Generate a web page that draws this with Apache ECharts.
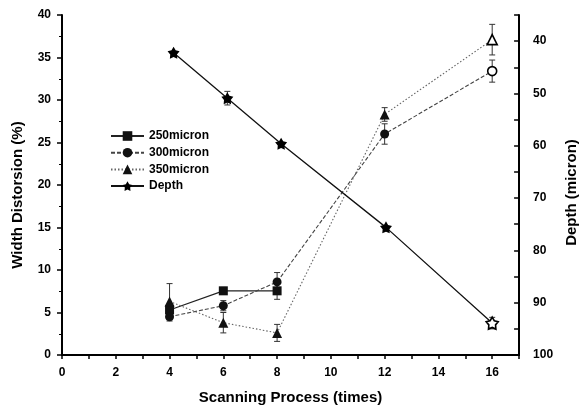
<!DOCTYPE html>
<html>
<head>
<meta charset="utf-8">
<script src="https://cdn.jsdelivr.net/npm/echarts@6/dist/echarts.min.js"></script>
<style>
html,body{margin:0;padding:0;background:#fff;}
#chart{width:587px;height:411px;}
</style>
</head>
<body>
<div id="chart"></div>
<script>
// ---- data ----
const x250 = [4, 6, 8];
const y250 = [5.3, 7.55, 7.55];
const e250 = [0.6, 0.4, 1.0];

const x300 = [4, 6, 8, 12, 16];
const y300 = [4.5, 5.8, 8.6, 26.0, 33.4];
const e300 = [0.5, 0.6, 1.1, 1.2, 1.3];

const x350 = [4, 6, 8, 12, 16];
const y350 = [6.3, 3.8, 2.6, 28.3, 37.1];
const e350 = [2.1, 1.2, 1.0, 0.8, 1.8];

const xDepth = [4.15, 6.15, 8.15, 12.05, 16];
const yDepth = [42.2, 50.9, 59.6, 75.6, 93.9];
const eDepth = [0, 1.3, 0, 0, 1.1];

const xTicks = [0, 2, 4, 6, 8, 10, 12, 14, 16];
const seriesNames = ['250micron', '300micron', '350micron', 'Depth'];

const starPath = 'path://M50,0 L66.5,27.3 L97.6,34.5 L76.6,58.7 L79.4,90.5 L50,78 L20.6,90.5 L23.4,58.7 L2.4,34.5 L33.5,27.3 Z';
const FONT = '"Liberation Sans", Arial, sans-serif';

function pts(xs, ys, hollowLast) {
  return xs.map((x, i) => {
    const item = { value: [x, ys[i]] };
    if (hollowLast && i === xs.length - 1) {
      item.itemStyle = { color: '#fff', borderColor: '#000', borderWidth: 1.6 };
    }
    return item;
  });
}
function errs(xs, ys, es) {
  return xs.map((x, i) => [x, ys[i], es[i]]).filter(d => d[2] > 0);
}
function errRender(params, api) {
  const x = api.value(0), y = api.value(1), e = api.value(2);
  const a = api.coord([x, y + e]), b = api.coord([x, y - e]);
  const w = 3;
  const st = { stroke: '#333', lineWidth: 1 };
  return {
    type: 'group',
    children: [
      { type: 'line', shape: { x1: a[0], y1: a[1], x2: b[0], y2: b[1] }, style: st },
      { type: 'line', shape: { x1: a[0] - w, y1: a[1], x2: a[0] + w, y2: a[1] }, style: st },
      { type: 'line', shape: { x1: b[0] - w, y1: b[1], x2: b[0] + w, y2: b[1] }, style: st }
    ]
  };
}

const chart = echarts.init(document.getElementById('chart'), null, { renderer: 'canvas' });
const axisLabelStyle = { color: '#000', fontFamily: FONT, fontWeight: 'bold', fontSize: 12 };
const nameStyle = { color: '#000', fontFamily: FONT, fontWeight: 'bold', fontSize: 15 };

chart.setOption({
  animation: false,
  backgroundColor: '#fff',
  grid: { left: 62, right: 60, top: 15, bottom: 56 },
  legend: {
    orient: 'vertical',
    left: 105, top: 125,
    itemWidth: 33, itemHeight: 12, itemGap: 4.7,
    data: seriesNames,
    textStyle: { color: '#000', fontFamily: FONT, fontWeight: 'bold', fontSize: 12, lineHeight: 12 }
  },
  xAxis: {
    type: 'value', min: 0, max: 17, interval: 1,
    name: 'Scanning Process (times)', nameLocation: 'middle', nameGap: 35,
    nameTextStyle: nameStyle,
    axisLine: { lineStyle: { color: '#000', width: 2 } },
    axisTick: { inside: false, length: 4, lineStyle: { color: '#000', width: 1.5 } },
    axisLabel: Object.assign({ margin: 12, formatter: v => xTicks.indexOf(v) >= 0 ? String(v) : '' }, axisLabelStyle),
    splitLine: { show: false }
  },
  yAxis: [
    {
      type: 'value', min: 0, max: 40, interval: 5, position: 'left',
      name: 'Width Distorsion (%)', nameLocation: 'middle', nameGap: 37,
      nameTextStyle: Object.assign({ padding: [0, 20, 0, 0] }, nameStyle),
      axisLine: { show: true, lineStyle: { color: '#000', width: 2 } },
      axisTick: { show: true, inside: false, length: 5, lineStyle: { color: '#000', width: 1.5 } },
      minorTick: { show: true, splitNumber: 2, length: 3, lineStyle: { color: '#000', width: 1 } },
      axisLabel: Object.assign({ margin: 11 }, axisLabelStyle),
      splitLine: { show: false }
    },
    {
      type: 'value', min: 35, max: 100, interval: 5, inverse: true, position: 'right',
      name: 'Depth (micron)', nameLocation: 'middle', nameGap: 41,
      nameTextStyle: Object.assign({ padding: [0, 15, 0, 0] }, nameStyle),
      axisLine: { show: true, lineStyle: { color: '#000', width: 2 } },
      axisTick: { show: true, inside: true, length: 5, lineStyle: { color: '#000', width: 1.5 } },
      axisLabel: Object.assign({ margin: 14, formatter: v => (v % 10 === 0 ? String(v) : '') }, axisLabelStyle),
      splitLine: { show: false }
    }
  ],
  series: [
    { type: 'custom', name: 'err250', renderItem: errRender, data: errs(x250, y250, e250), encode: { x: 0, y: 1 }, yAxisIndex: 0, z: 1, silent: true },
    { type: 'custom', name: 'err300', renderItem: errRender, data: errs(x300, y300, e300), encode: { x: 0, y: 1 }, yAxisIndex: 0, z: 1, silent: true },
    { type: 'custom', name: 'err350', renderItem: errRender, data: errs(x350, y350, e350), encode: { x: 0, y: 1 }, yAxisIndex: 0, z: 1, silent: true },
    { type: 'custom', name: 'errDepth', renderItem: errRender, data: errs(xDepth, yDepth, eDepth), encode: { x: 0, y: 1 }, yAxisIndex: 1, z: 1, silent: true },
    {
      name: '250micron', type: 'line', yAxisIndex: 0, z: 3,
      data: pts(x250, y250, false),
      symbol: 'rect', symbolSize: 9,
      lineStyle: { color: '#222', width: 1.2, type: 'solid' },
      itemStyle: { color: '#111' }
    },
    {
      name: '300micron', type: 'line', yAxisIndex: 0, z: 3,
      data: pts(x300, y300, true),
      symbol: 'circle', symbolSize: 9,
      lineStyle: { color: '#444', width: 1.1, type: [4, 2] },
      itemStyle: { color: '#111' }
    },
    {
      name: '350micron', type: 'line', yAxisIndex: 0, z: 3,
      data: pts(x350, y350, true),
      symbol: 'triangle', symbolSize: 10,
      lineStyle: { color: '#666', width: 1.1, type: [1.5, 2] },
      itemStyle: { color: '#111' }
    },
    {
      name: 'Depth', type: 'line', yAxisIndex: 1, z: 4,
      data: pts(xDepth, yDepth, true),
      symbol: starPath, symbolSize: 12,
      lineStyle: { color: '#111', width: 1.3, type: 'solid' },
      itemStyle: { color: '#000' }
    }
  ]
});
</script>
</body>
</html>
